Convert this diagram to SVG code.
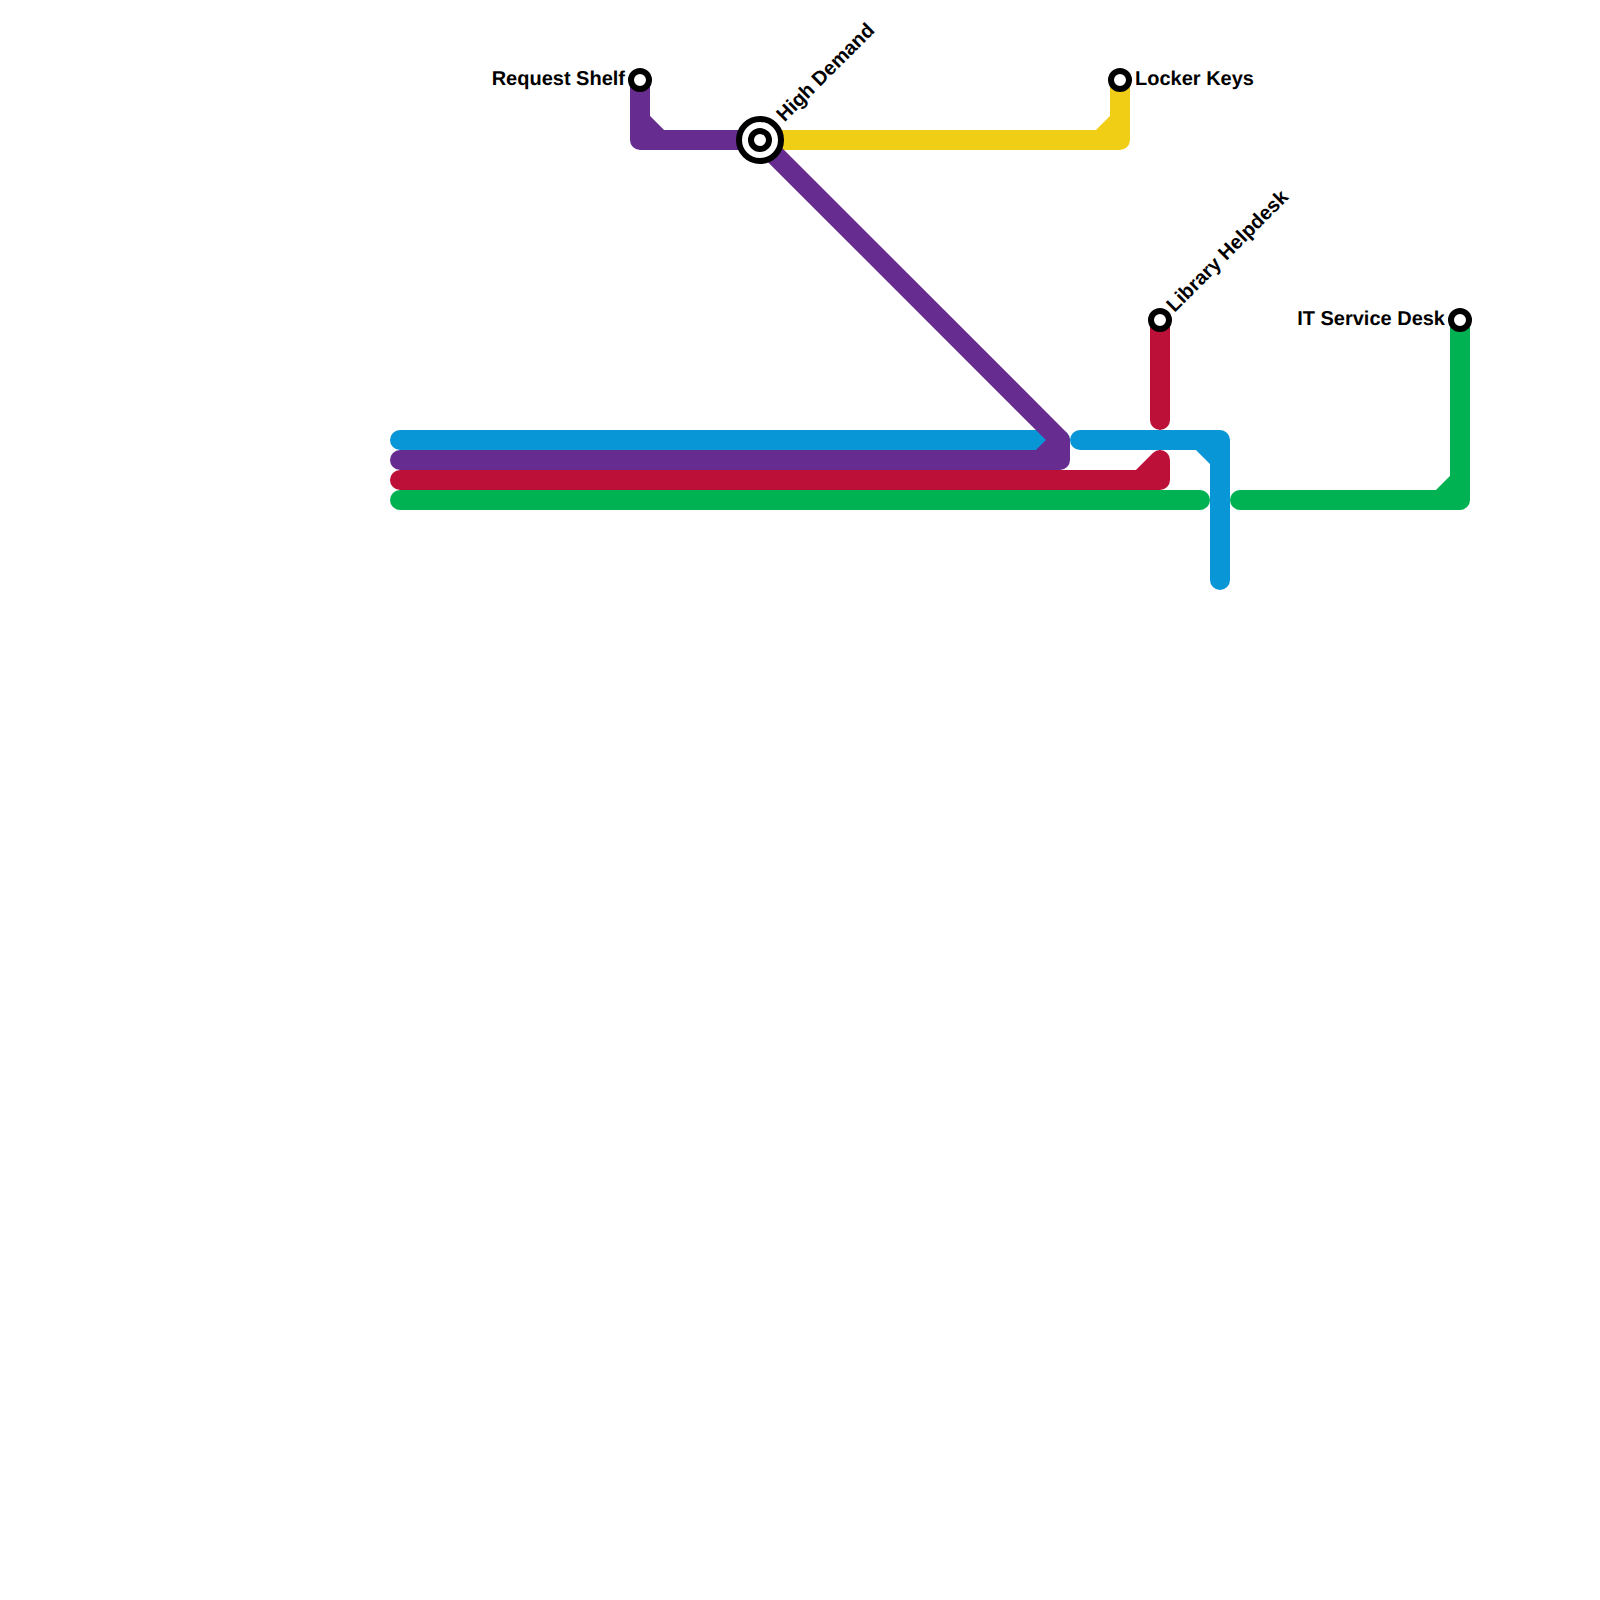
<svg xmlns="http://www.w3.org/2000/svg" width="1600" height="1600" viewBox="0 0 1600 1600">
<style>
.l{fill:none;stroke-width:20;stroke-linecap:round;stroke-linejoin:round}
.s{fill:#fff;stroke:#000;stroke-width:6}
.b{fill:#fff;stroke:#000;stroke-width:6}
text{font-family:"Liberation Sans",Arial,sans-serif;font-weight:700;font-size:20px;fill:#000;text-rendering:geometricPrecision}
</style>
<rect width="1600" height="1600" fill="#fff"/>
<g id="connectors">
<path class="l" stroke="#f0ce15" d="M760 140H1120V80M1100 140L1120 120"/>
<path class="l" stroke="#0896d7" d="M400 440H1060M1040 440L1050 450"/>
<path class="l" stroke="#0896d7" d="M1080 440H1220V580M1200 440L1220 460"/>
<path class="l" stroke="#bd1038" d="M1160 320V420"/>
<path class="l" stroke="#bd1038" d="M400 480H1160V460M1140 480L1160 460"/>
<path class="l" stroke="#00b251" d="M400 500H1200"/>
<path class="l" stroke="#00b251" d="M1240 500H1460V320M1440 500L1460 480"/>
<path class="l" stroke="#662c90" d="M640 80V140H760M640 120L660 140"/>
<path class="l" stroke="#662c90" d="M760 140L1060 440V460H400M1040 460L1060 440"/>
</g>
<g id="request-shelf"><circle class="s" cx="640" cy="80" r="9"/><text x="625" y="85" text-anchor="end">Request Shelf</text></g>
<g id="high-demand"><circle class="b" cx="760" cy="140" r="21"/><circle class="s" cx="760" cy="140" r="9"/><text transform="translate(784.500 122.500) rotate(-45)">High Demand</text></g>
<g id="locker-keys"><circle class="s" cx="1120" cy="80" r="9"/><text x="1135" y="85">Locker Keys</text></g>
<g id="library-helpdesk"><circle class="s" cx="1160" cy="320" r="9"/><text transform="translate(1174.500 313) rotate(-45)">Library Helpdesk</text></g>
<g id="it-service-desk"><circle class="s" cx="1460" cy="320" r="9"/><text x="1445" y="325" text-anchor="end">IT Service Desk</text></g>
</svg>
